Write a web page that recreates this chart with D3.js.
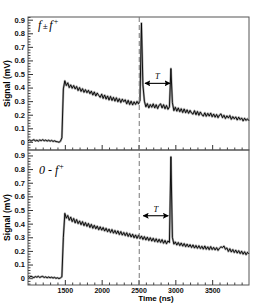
<!DOCTYPE html>
<html>
<head>
<meta charset="utf-8">
<script src="https://cdn.jsdelivr.net/npm/d3@7"></script>
<style>
  body { margin: 0; background: #fff; }
  text { font-family: "Liberation Sans", Arial, sans-serif; }
</style>
</head>
<body>
<div id="chart"></div>
<script>
// trace sampled every 20 ns from 1000 ns
const timeStart = 1000;
const timeStep = 20;

// top panel: f+ - f+
const signalTop = [
  0.008,0.014,0.005,0.011,0.016,0.007,0.012,0.005,0.014,0.009,
  0.016,0.008,0.013,0.006,0.012,0.005,0.011,0.003,0.008,0.002,
  0.001,-0.003,0.004,0.030,0.390,0.450,0.415,0.435,0.400,0.420,
  0.395,0.415,0.390,0.408,0.378,0.400,0.372,0.392,0.365,0.385,
  0.362,0.380,0.355,0.374,0.345,0.368,0.338,0.360,0.342,0.328,
  0.352,0.320,0.345,0.315,0.338,0.308,0.335,0.305,0.328,0.300,
  0.325,0.295,0.318,0.290,0.315,0.296,0.310,0.280,0.306,0.275,
  0.300,0.272,0.295,0.276,0.298,0.280,0.305,0.875,0.420,0.300,
  0.258,0.282,0.250,0.275,0.255,0.280,0.250,0.274,0.245,0.270,
  0.280,0.250,0.274,0.244,0.268,0.240,0.258,0.540,0.290,0.230,
  0.255,0.226,0.250,0.222,0.244,0.216,0.242,0.214,0.236,0.210,
  0.232,0.212,0.204,0.230,0.200,0.224,0.196,0.220,0.200,0.190,
  0.214,0.188,0.210,0.190,0.212,0.185,0.205,0.182,0.202,0.178,
  0.198,0.206,0.178,0.196,0.172,0.192,0.176,0.194,0.166,0.186,
  0.170,0.184,0.161,0.182,0.164,0.176,0.154,0.174,0.158,0.170,
  0.155
];

// bottom panel: 0 - f+
const signalBottom = [
  0.012,0.006,0.015,0.009,0.004,0.012,0.007,0.014,0.005,0.011,
  0.013,0.005,0.010,0.003,0.009,0.003,0.007,0.001,0.006,-0.001,
  0.003,-0.003,0.002,0.010,0.300,0.475,0.440,0.460,0.425,0.448,
  0.415,0.438,0.405,0.430,0.400,0.420,0.392,0.415,0.385,0.408,
  0.380,0.402,0.372,0.395,0.366,0.388,0.362,0.382,0.355,0.377,
  0.352,0.372,0.346,0.366,0.340,0.360,0.335,0.357,0.330,0.350,
  0.326,0.347,0.320,0.342,0.316,0.335,0.312,0.333,0.306,0.327,
  0.302,0.323,0.296,0.317,0.292,0.315,0.290,0.309,0.284,0.305,
  0.280,0.301,0.276,0.297,0.272,0.293,0.268,0.289,0.264,0.285,
  0.262,0.283,0.256,0.277,0.252,0.273,0.262,0.890,0.300,0.250,
  0.266,0.243,0.262,0.239,0.258,0.235,0.254,0.231,0.250,0.229,
  0.246,0.225,0.244,0.221,0.240,0.219,0.238,0.217,0.234,0.213,
  0.236,0.212,0.230,0.209,0.232,0.210,0.226,0.207,0.224,0.204,
  0.220,0.230,0.224,0.236,0.212,0.222,0.196,0.216,0.192,0.210,
  0.188,0.206,0.184,0.202,0.180,0.198,0.176,0.194,0.172,0.190,
  0.178
];

const xTicks = [1500, 2000, 2500, 3000, 3500];
const xTickLabels = ["1500", "2000", "2500", "3000", "3500"];
const yTicks = [0, 0.1, 0.2, 0.3, 0.4, 0.5, 0.6, 0.7, 0.8, 0.9];
const yTickLabels = ["0", "0.1", "0.2", "0.3", "0.4", "0.5", "0.6", "0.7", "0.8", "0.9"];

const markerTime = 2510;               // dashed line
const arrowTop = [2588, 2927, 0.431];  // from, to, signal
const arrowBottom = [2565, 2904, 0.458];

const width = 276, height = 305;
const left = 28, right = 249;

const svg = d3.select("#chart").append("svg")
  .attr("width", width)
  .attr("height", height);

const defs = svg.append("defs");
["start", "end"].forEach(k => {
  defs.append("marker")
    .attr("id", "arr-" + k)
    .attr("viewBox", "0 0 10 10")
    .attr("refX", 9).attr("refY", 5)
    .attr("markerWidth", 6).attr("markerHeight", 6)
    .attr("markerUnits", "userSpaceOnUse")
    .attr("orient", "auto-start-reverse")
    .append("path").attr("d", "M0,0 L10,5 L0,10 L2,5 z").attr("fill", "#000");
});

const x = d3.scaleLinear().domain([1000, 4000]).range([left, right]);

const panels = [
  { data: signalTop, y: d3.scaleLinear().domain([-0.06, 0.92]).range([150, 17]), arrow: arrowTop, showX: false },
  { data: signalBottom, y: d3.scaleLinear().domain([-0.05, 0.94]).range([285, 150]), arrow: arrowBottom, showX: true }
];

const xMinor = d3.range(1100, 4000, 100).filter(v => v % 500 !== 0);
const yMinor = d3.range(-0.04, 0.93, 0.02).map(v => +v.toFixed(2)).filter(v => Math.round(v * 100) % 10 !== 0);

panels.forEach((p, pi) => {
  const g = svg.append("g");
  const [y0, y1] = p.y.range();

  // frame
  g.append("rect")
    .attr("x", left).attr("y", y1)
    .attr("width", right - left).attr("height", y0 - y1)
    .attr("fill", "none").attr("stroke", "#555").attr("stroke-width", 1);

  // y axis major + minor (ticks inside)
  const yAxis = g.append("g").attr("transform", `translate(${left},0)`)
    .call(d3.axisLeft(p.y).tickValues(yTicks).tickSize(-5).tickPadding(3)
      .tickFormat((d, i) => yTickLabels[i]));
  yAxis.select(".domain").remove();
  yAxis.selectAll("line").attr("stroke", "#333");
  yAxis.selectAll("text").attr("font-size", 7.5).attr("font-weight", "bold").attr("fill", "#111");

  const yAxisMinor = g.append("g").attr("transform", `translate(${left},0)`)
    .call(d3.axisLeft(p.y).tickValues(yMinor).tickSize(-2.5).tickFormat(""));
  yAxisMinor.select(".domain").remove();
  yAxisMinor.selectAll("line").attr("stroke", "#444");

  // x axis
  const xAxis = g.append("g").attr("transform", `translate(0,${y0})`)
    .call(d3.axisBottom(x).tickValues(xTicks).tickSize(-5).tickPadding(3)
      .tickFormat((d, i) => p.showX ? xTickLabels[i] : ""));
  xAxis.select(".domain").remove();
  xAxis.selectAll("line").attr("stroke", "#333");
  xAxis.selectAll("text").attr("font-size", 7).attr("font-weight", "bold").attr("fill", "#111");

  const xAxisMinor = g.append("g").attr("transform", `translate(0,${y0})`)
    .call(d3.axisBottom(x).tickValues(xMinor).tickSize(-2.5).tickFormat(""));
  xAxisMinor.select(".domain").remove();
  xAxisMinor.selectAll("line").attr("stroke", "#444");

  // trace
  const line = d3.line()
    .x((d, i) => x(timeStart + i * timeStep))
    .y(d => p.y(d));
  g.append("path").datum(p.data)
    .attr("d", line).attr("fill", "none")
    .attr("stroke", "#aaa").attr("stroke-width", 2.2).attr("stroke-linejoin", "round");
  g.append("path").datum(p.data)
    .attr("d", line).attr("fill", "none")
    .attr("stroke", "#000").attr("stroke-width", 0.9).attr("stroke-linejoin", "round");

  // T arrow
  const [a0, a1, av] = p.arrow;
  g.append("line")
    .attr("x1", x(a0)).attr("x2", x(a1))
    .attr("y1", p.y(av)).attr("y2", p.y(av))
    .attr("stroke", "#000").attr("stroke-width", 1.1)
    .attr("marker-start", "url(#arr-start)")
    .attr("marker-end", "url(#arr-end)");
  g.append("text")
    .attr("x", x((a0 + a1) / 2)).attr("y", p.y(av) - 4)
    .attr("text-anchor", "middle")
    .style("font-family", "'Liberation Serif', serif")
    .attr("font-style", "italic").attr("font-size", 8.5)
    .text("T");

  // y title
  g.append("text")
    .attr("transform", `translate(10,${(y0 + y1) / 2}) rotate(-90)`)
    .attr("text-anchor", "middle")
    .attr("font-size", 8.5).attr("font-weight", "bold")
    .text("Signal (mV)");
});

// panel labels
const lab1 = svg.append("text").attr("x", 38).attr("y", 29)
  .style("font-family", "'Liberation Serif', serif")
  .attr("font-style", "italic").attr("font-size", 12);
lab1.append("tspan").text("f");
lab1.append("tspan").attr("dx", 1.5).attr("font-size", 9).text("±");
lab1.append("tspan").attr("dx", 1.5).text("f");
lab1.append("tspan").attr("dx", 0.5).attr("dy", -5).attr("font-size", 8).text("+");

const lab2 = svg.append("text").attr("x", 39).attr("y", 174)
  .style("font-family", "'Liberation Serif', serif")
  .attr("font-style", "italic").attr("font-size", 12);
lab2.append("tspan").text("0 - f");
lab2.append("tspan").attr("dx", 0.5).attr("dy", -5).attr("font-size", 8).text("+");

// dashed marker line across both panels
svg.append("line")
  .attr("x1", x(markerTime)).attr("x2", x(markerTime))
  .attr("y1", 17).attr("y2", 285)
  .attr("stroke", "#777").attr("stroke-width", 1)
  .attr("stroke-dasharray", "5,3");

// x title
svg.append("text")
  .attr("x", 156).attr("y", 301)
  .attr("text-anchor", "middle")
  .attr("font-size", 8).attr("font-weight", "bold")
  .text("Time (ns)");
</script>
</body>
</html>
